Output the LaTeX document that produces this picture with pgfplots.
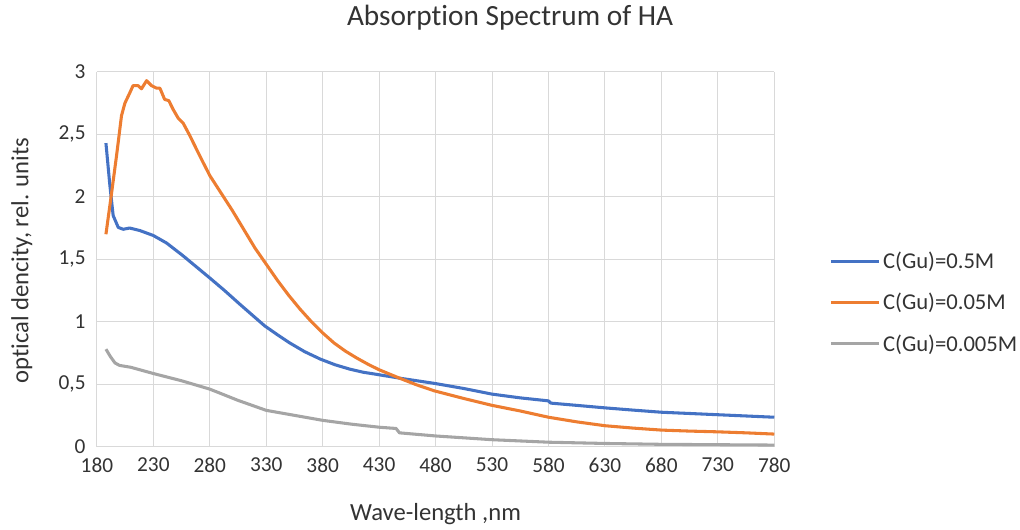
\documentclass[border=0pt]{standalone}
\usepackage{fontspec}
\setmainfont[Ligatures=NoCommon]{Carlito}
\usepackage{pgfplots}
\pgfplotsset{compat=1.18}
\definecolor{ExBlue}{HTML}{4472C4}
\definecolor{ExOrange}{HTML}{ED7D31}
\definecolor{ExGray}{HTML}{A5A5A5}
\definecolor{GridGray}{HTML}{D9D9D9}
\begin{document}
\begin{tikzpicture}
\begin{axis}[
  scale only axis, width=508.5pt, height=281.25pt,
  xmin=180, xmax=780, ymin=0, ymax=3,
  xtick={180,230,...,780}, ytick={0,0.5,...,3},
  axis x line=bottom, axis y line=left,
  x axis line style={draw=GridGray, line width=0.8pt, -},
  y axis line style={draw=none},
  major tick length=0pt,
  grid=major, grid style={draw=GridGray, line width=0.8pt},
  /pgf/number format/.cd, use comma, 1000 sep={}, assume math mode=true,
  /pgfplots/.cd,
  tick label style={font=\fontsize{16}{19}\selectfont, text=black!80},
  xticklabel style={yshift=-5pt},
  yticklabel style={xshift=-5pt},
  title={Absorption Spectrum of HA},
  title style={at={(0.610,1.124)}, anchor=center, font=\fontsize{22}{26}\selectfont, text=black!80},
  xlabel={Wave-length ,nm},
  xlabel style={at={(0.5,-0.18)}, anchor=center, font=\fontsize{18.5}{22}\selectfont, text=black!80},
  ylabel={optical dencity, rel. units},
  ylabel style={at={(-0.111,0.496)}, anchor=center, font=\fontsize{18.5}{22}\selectfont, text=black!80},
  legend style={at={(1.081,0.384)}, anchor=west, draw=none, fill=none,
    font=\fontsize{17}{20}\selectfont, text=black!80, row sep=13pt, inner sep=0pt},
  legend cell align=left,
  legend image code/.code={\draw[#1] (0pt,0pt) -- (36pt,0pt);},
  every axis plot/.append style={line width=2.3pt, line join=round},
]
\addplot[ExBlue] coordinates {
(188,2.43) (191.5,2.09) (194.4,1.85) (198.9,1.755) (203.3,1.74) (209,1.75)
(218,1.73) (230,1.69) (241.7,1.63) (256,1.53) (268,1.44) (280,1.35) (293,1.25)
(306.6,1.14) (318,1.05) (328.7,0.966) (340,0.895) (350.8,0.83) (364,0.76)
(378,0.70) (391,0.655) (404,0.62) (416,0.595) (428,0.578) (448,0.548)
(479,0.506) (505,0.465) (530,0.42) (555,0.39) (580,0.366) (582,0.348)
(605,0.33) (630,0.31) (655,0.292) (680,0.275) (705,0.265) (730,0.255)
(755,0.245) (780,0.235)
};
\addlegendentry{C(Gu)=0.5M}
\addplot[ExOrange] coordinates {
(188,1.70) (193,2.03) (197.4,2.33) (201.8,2.65) (204.8,2.75) (209,2.83)
(212,2.89) (216.5,2.89) (219.5,2.865) (224,2.93) (228.4,2.89) (232.8,2.87)
(235.8,2.87) (240,2.78) (243.7,2.77) (247.5,2.70) (252,2.63) (256.4,2.59)
(262.3,2.49) (271,2.33) (280,2.17) (290,2.03) (300,1.89) (310,1.74)
(320,1.59) (330,1.46) (340,1.33) (350,1.21) (360,1.10) (370,1.00)
(380,0.91) (390,0.83) (400,0.765) (410,0.71) (420,0.66) (430,0.615)
(448,0.548) (463,0.495) (479,0.446) (505,0.385)
(530,0.33) (555,0.285) (580,0.235) (605,0.198) (630,0.167) (655,0.148)
(680,0.132) (705,0.124) (730,0.118) (755,0.11) (780,0.10)
};
\addlegendentry{C(Gu)=0.05M}
\addplot[ExGray] coordinates {
(188,0.78) (192,0.72) (196,0.67) (200,0.65) (210,0.635) (230,0.585)
(255,0.527) (280,0.46) (305,0.37) (330,0.29) (355,0.25) (380,0.21)
(405,0.18) (430,0.155) (445,0.145) (448,0.11) (480,0.085) (530,0.055)
(580,0.035) (630,0.025) (680,0.018) (730,0.015) (780,0.012)
};
\addlegendentry{C(Gu)=0.005M}
\end{axis}
\path ([xshift=-72.75pt, yshift=-57.4pt]current axis.south west)
  rectangle ([xshift=183.75pt, yshift=54pt]current axis.north east);
\end{tikzpicture}
\end{document}
